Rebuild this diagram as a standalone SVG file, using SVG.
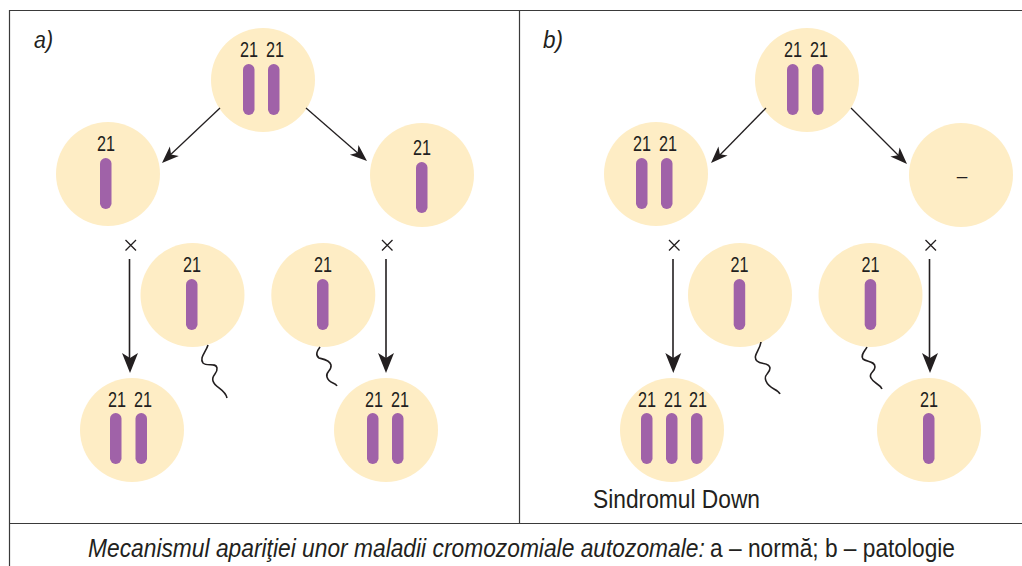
<svg xmlns="http://www.w3.org/2000/svg" width="1022" height="566" viewBox="0 0 1022 566">
<style>
.cell{fill:#feedc5}
.chr{fill:#a062a8}
.n{font-family:"Liberation Sans",Arial,sans-serif;font-size:22px;fill:#231f20;text-anchor:middle}
.t{font-family:"Liberation Sans",Arial,sans-serif;font-size:26px;fill:#231f20}
.i{font-style:italic}
.frame{fill:none;stroke:#3a3a3a;stroke-width:1.2}
.c{fill:none;stroke:#231f20;stroke-width:1.3}
.v{fill:none;stroke:#231f20;stroke-width:1.6}
.w{fill:none;stroke:#231f20;stroke-width:1.6}
.h{fill:#231f20}
</style>
<defs>
<g id="head-s"><path class="h" d="M0 0L-6.500 -17L0 -12.500L6.500 -17Z"/></g>
<g id="head-l"><path class="h" d="M0 0L-8 -20L0 -15L8 -20Z"/></g>
</defs>
<path class="frame" d="M1022 10.500H9.500V566M9.500 523.500H1022M519.500 10.500V523.500"/>
<text class="t i" x="34" y="48" textLength="19" lengthAdjust="spacingAndGlyphs" style="font-size:23px">a)</text>
<text class="t i" x="543" y="48" textLength="20" lengthAdjust="spacingAndGlyphs" style="font-size:23px">b)</text>

<g id="a-parent"><circle class="cell" cx="263" cy="80" r="52"/><rect class="chr" x="243" y="64" width="11.500" height="51" rx="5.700"/><rect class="chr" x="268" y="64" width="11.500" height="51" rx="5.700"/><text class="n" x="249" y="57" textLength="18" lengthAdjust="spacingAndGlyphs">21</text><text class="n" x="275" y="57" textLength="18" lengthAdjust="spacingAndGlyphs">21</text></g>
<g id="a-gamete-left"><circle class="cell" cx="108" cy="174" r="52"/><rect class="chr" x="100" y="158" width="11.500" height="51" rx="5.700"/><text class="n" x="106" y="151" textLength="18" lengthAdjust="spacingAndGlyphs">21</text></g>
<g id="a-gamete-right"><circle class="cell" cx="422" cy="175" r="52"/><rect class="chr" x="416" y="162" width="11.500" height="51" rx="5.700"/><text class="n" x="422" y="155" textLength="18" lengthAdjust="spacingAndGlyphs">21</text></g>
<g id="a-sperm-left"><circle class="cell" cx="192.500" cy="295" r="52"/><rect class="chr" x="186" y="279" width="11.500" height="51" rx="5.700"/><text class="n" x="192" y="272" textLength="18" lengthAdjust="spacingAndGlyphs">21</text></g>
<g id="a-sperm-right"><circle class="cell" cx="323.300" cy="295" r="52"/><rect class="chr" x="317" y="279" width="11.500" height="51" rx="5.700"/><text class="n" x="323" y="272" textLength="18" lengthAdjust="spacingAndGlyphs">21</text></g>
<g id="a-zygote-left"><circle class="cell" cx="132" cy="430" r="52"/><rect class="chr" x="110" y="413" width="11.500" height="51" rx="5.700"/><text class="n" x="117" y="407" textLength="18" lengthAdjust="spacingAndGlyphs">21</text><rect class="chr" x="135.500" y="413" width="11.500" height="51" rx="5.700"/><text class="n" x="143" y="407" textLength="18" lengthAdjust="spacingAndGlyphs">21</text></g>
<g id="a-zygote-right"><circle class="cell" cx="386" cy="430" r="52"/><rect class="chr" x="367" y="413" width="11.500" height="51" rx="5.700"/><text class="n" x="374" y="407" textLength="18" lengthAdjust="spacingAndGlyphs">21</text><rect class="chr" x="392" y="413" width="11.500" height="51" rx="5.700"/><text class="n" x="400" y="407" textLength="18" lengthAdjust="spacingAndGlyphs">21</text></g>

<g id="b-parent"><circle class="cell" cx="807" cy="80" r="52"/><rect class="chr" x="787" y="64" width="11.500" height="51" rx="5.700"/><rect class="chr" x="812" y="64" width="11.500" height="51" rx="5.700"/><text class="n" x="793" y="57" textLength="18" lengthAdjust="spacingAndGlyphs">21</text><text class="n" x="819" y="57" textLength="18" lengthAdjust="spacingAndGlyphs">21</text></g>
<g id="b-gamete-left"><circle class="cell" cx="656" cy="174" r="52"/><rect class="chr" x="636" y="158" width="11.500" height="51" rx="5.700"/><rect class="chr" x="661" y="158" width="11.500" height="51" rx="5.700"/><text class="n" x="642" y="151" textLength="18" lengthAdjust="spacingAndGlyphs">21</text><text class="n" x="668" y="151" textLength="18" lengthAdjust="spacingAndGlyphs">21</text></g>
<g id="b-gamete-right"><circle class="cell" cx="961" cy="175" r="52"/><text class="n" x="962" y="182" style="font-size:19px">–</text></g>
<g id="b-sperm-left"><circle class="cell" cx="740" cy="295" r="52"/><rect class="chr" x="733.700" y="279" width="11.500" height="51" rx="5.700"/><text class="n" x="739.500" y="272" textLength="18" lengthAdjust="spacingAndGlyphs">21</text></g>
<g id="b-sperm-right"><circle class="cell" cx="870.500" cy="295" r="52"/><rect class="chr" x="864.700" y="279" width="11.500" height="51" rx="5.700"/><text class="n" x="870.500" y="272" textLength="18" lengthAdjust="spacingAndGlyphs">21</text></g>
<g id="b-zygote-left"><circle class="cell" cx="672" cy="430" r="52"/><rect class="chr" x="641" y="413" width="11.500" height="51" rx="5.700"/><rect class="chr" x="666" y="413" width="11.500" height="51" rx="5.700"/><rect class="chr" x="691" y="413" width="11.500" height="51" rx="5.700"/><text class="n" x="647" y="407" textLength="18" lengthAdjust="spacingAndGlyphs">21</text><text class="n" x="673" y="407" textLength="18" lengthAdjust="spacingAndGlyphs">21</text><text class="n" x="698" y="407" textLength="18" lengthAdjust="spacingAndGlyphs">21</text></g>
<g id="b-zygote-right"><circle class="cell" cx="929" cy="430" r="52"/><rect class="chr" x="923" y="413" width="11.500" height="51" rx="5.700"/><text class="n" x="929" y="407" textLength="18" lengthAdjust="spacingAndGlyphs">21</text></g>

<g id="connectors">
<path class="c" d="M220 108L167 158"/><use href="#head-s" transform="translate(162 163) rotate(46.500)"/>
<path class="c" d="M306 108L360 155"/><use href="#head-s" transform="translate(367 161) rotate(-49)"/>
<path class="c" d="M766 108L717 158"/><use href="#head-s" transform="translate(711 163) rotate(45)"/>
<path class="c" d="M851 108L901 158"/><use href="#head-s" transform="translate(907 164) rotate(-45)"/>
<path class="v" d="M129.500 259V360"/><use href="#head-l" transform="translate(130 373)"/>
<path class="v" d="M386 259V360"/><use href="#head-l" transform="translate(386 373)"/>
<path class="v" d="M673 259V360"/><use href="#head-l" transform="translate(673.300 373)"/>
<path class="v" d="M929.500 259V360"/><use href="#head-l" transform="translate(930 373)"/>
<path class="c" d="M125.500 240L136 250.500M136 240L125.500 250.500"/>
<path class="c" d="M382 240L392.500 250.500M392.500 240L382 250.500"/>
<path class="c" d="M669 240L679.500 250.500M679.500 240L669 250.500"/>
<path class="c" d="M925.500 240L936 250.500M936 240L925.500 250.500"/>
<path class="w" d="M208 345C206 352 199 358 203 363C207 367 216 362 217 368C218 374 211 375 213 381C215 388 225 389 227 398"/>
<path class="w" d="M320 347C317 351 315 355 319 358C323 359 330 360 331 365C332 371 325 372 327 377C329 384 335 382 337 386"/>
<path class="w" d="M761 342C760 350 752 356 757 361C761 365 769 362 770 368C770 374 763 374 766 381C769 389 778 389 780 394"/>
<path class="w" d="M867 347C865 351 860 355 863 359C867 362 875 361 875 367C875 372 868 373 871 378C874 384 879 383 882 389"/>
</g>

<text class="t" x="593" y="508" textLength="167" lengthAdjust="spacingAndGlyphs">Sindromul Down</text>
<!-- caption: both runs are narrowed by the same horizontal scale -->
<text class="t i" transform="translate(88 557) scale(.87 1)" textLength="709" lengthAdjust="spacingAndGlyphs">Mecanismul apariţiei unor maladii cromozomiale autozomale:</text>
<text class="t" transform="translate(710 557) scale(.87 1)" textLength="281.600" lengthAdjust="spacingAndGlyphs">a – normă; b – patologie</text>
</svg>
